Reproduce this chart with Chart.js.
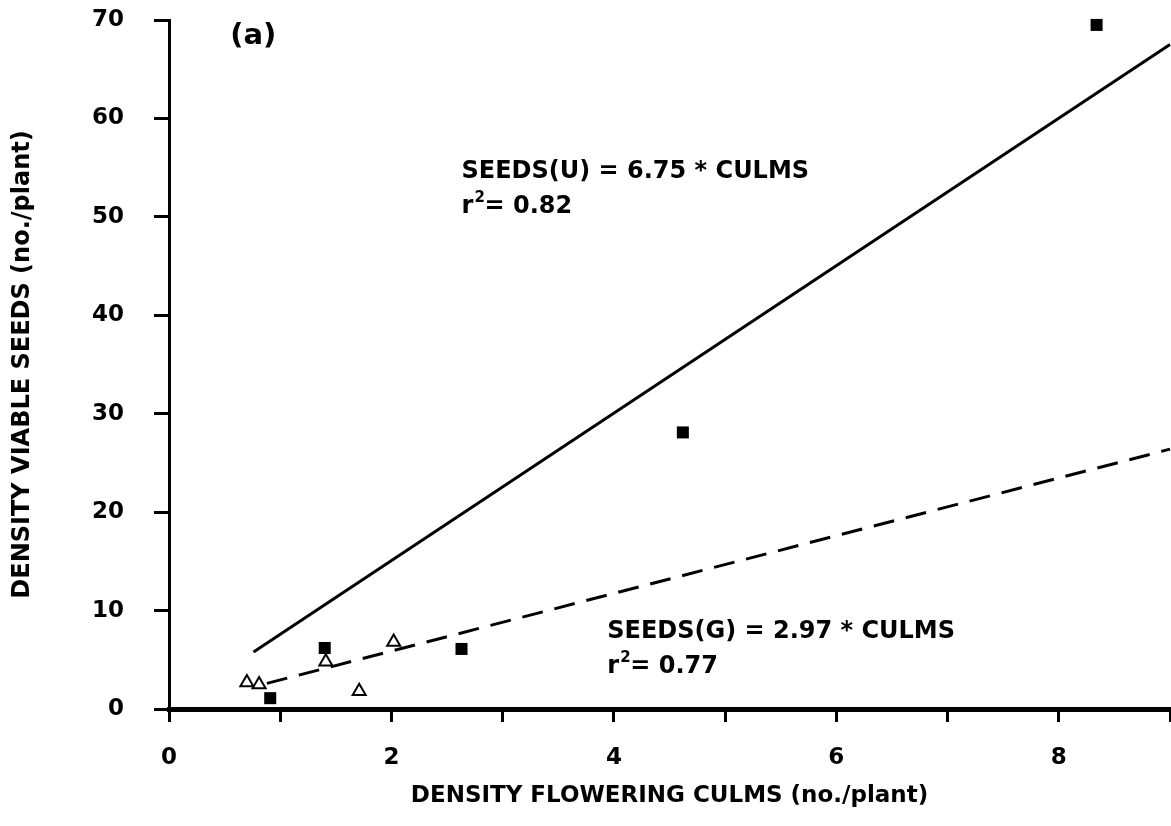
<!DOCTYPE html>
<html>
<head>
<meta charset="utf-8">
<script src="https://cdn.jsdelivr.net/npm/chart.js@4.4.1/dist/chart.umd.min.js"></script>
<style>
  html, body { margin: 0; padding: 0; background: #fff; }
  #wrap { width: 1171px; height: 826px; }
</style>
</head>
<body>
<div id="wrap"><canvas id="chart" width="1171" height="826"></canvas></div>
<script>
// flowering culm density (x) vs viable seed density (y), per plant
const culmsU = [0.91, 1.40, 2.63, 4.62, 8.34];
const seedsU = [1.1, 6.2, 6.1, 28.1, 69.5];
const culmsG = [0.70, 0.81, 1.41, 1.71, 2.02];
const seedsG = [2.7, 2.5, 4.8, 1.8, 6.8];

// fitted lines, end points only
const fitUx = [0.76, 9];
const fitUy = [5.8, 67.5];
const fitGx = [0.88, 9];
const fitGy = [2.6, 26.4];

const xTicks = [0, 1, 2, 3, 4, 5, 6, 7, 8, 9];
const xLabels = ['0', '', '2', '', '4', '', '6', '', '8', ''];
const yTicks = [0, 10, 20, 30, 40, 50, 60, 70];

const eqU = 'SEEDS(U) = 6.75 * CULMS';
const eqG = 'SEEDS(G) = 2.97 * CULMS';
const r2U = '0.82';
const r2G = '0.77';
const panel = '(a)';

const FONT = '"DejaVu Sans", "Liberation Sans", Arial, sans-serif';

function pts(xs, ys) { return xs.map((x, i) => ({ x, y: ys[i] })); }

// equation text + r² with a raised 2
function drawEq(ctx, x, y, eq, r2) {
  ctx.font = `bold 24px ${FONT}`;
  ctx.fillText(eq, x, y);
  const y2 = y + 35;
  ctx.fillText('r', x, y2);
  ctx.font = `bold 15px ${FONT}`;
  ctx.fillText('2', x + 13, y2 - 11);
  ctx.font = `bold 24px ${FONT}`;
  ctx.fillText('= ' + r2, x + 23, y2);
}

const notesPlugin = {
  id: 'notes',
  afterDatasetsDraw(chart) {
    const { ctx, scales: { x, y } } = chart;
    ctx.save();
    ctx.fillStyle = '#000';
    ctx.textBaseline = 'alphabetic';
    ctx.textAlign = 'left';
    ctx.font = `bold 29px ${FONT}`;
    ctx.fillText(panel, x.getPixelForValue(0.55), y.getPixelForValue(67.6));
    drawEq(ctx, x.getPixelForValue(2.63), y.getPixelForValue(53.9), eqU, r2U);
    drawEq(ctx, x.getPixelForValue(3.94), y.getPixelForValue(7.2), eqG, r2G);
    ctx.restore();
  }
};

new Chart(document.getElementById('chart'), {
  type: 'scatter',
  data: {
    datasets: [
      { label: 'fit U', type: 'line', data: pts(fitUx, fitUy), borderColor: '#000', borderWidth: 3,
        pointRadius: 0, fill: false, clip: false },
      { label: 'fit G', type: 'line', data: pts(fitGx, fitGy), borderColor: '#000', borderWidth: 3,
        borderDash: [21, 12], pointRadius: 0, fill: false, clip: false },
      { label: 'U', data: pts(culmsU, seedsU), pointStyle: 'rect', pointRadius: 8.5,
        backgroundColor: '#000', borderColor: '#000', borderWidth: 0, clip: false },
      { label: 'G', data: pts(culmsG, seedsG), pointStyle: 'triangle', pointRadius: 7.5,
        backgroundColor: '#fff', borderColor: '#000', borderWidth: 2, clip: false },
    ]
  },
  options: {
    responsive: false,
    animation: false,
    devicePixelRatio: 1,
    layout: { autoPadding: false, padding: { top: 20, right: 1, left: 0, bottom: 0 } },
    plugins: { legend: { display: false }, tooltip: { enabled: false } },
    scales: {
      x: {
        type: 'linear', min: 0, max: 9,
        afterBuildTicks: (s) => { s.ticks = xTicks.map(v => ({ value: v })); },
        afterFit: (s) => { s.height = 117; s.paddingLeft = 0; s.paddingRight = 0; },
        grid: { drawOnChartArea: false, drawTicks: true, tickLength: 13, tickWidth: 3, tickColor: '#000' },
        border: { display: true, color: '#000', width: 5 },
        ticks: { color: '#000', padding: 22, maxRotation: 0, autoSkip: false,
          font: { family: FONT, size: 23, weight: 'bold' },
          callback: (v, i) => xLabels[i] },
        title: { display: true, text: 'DENSITY FLOWERING CULMS (no./plant)', color: '#000',
          font: { family: FONT, size: 23, weight: 'bold' }, padding: { top: 0, bottom: 16 } }
      },
      y: {
        type: 'linear', min: 0, max: 70,
        afterBuildTicks: (s) => { s.ticks = yTicks.map(v => ({ value: v })); },
        afterFit: (s) => { s.width = 169; s.paddingTop = 0; s.paddingBottom = 0; },
        grid: { drawOnChartArea: false, drawTicks: true, tickLength: 15, tickWidth: 3, tickColor: '#000' },
        border: { display: true, color: '#000', width: 3 },
        ticks: { color: '#000', padding: 30, autoSkip: false,
          font: { family: FONT, size: 23, weight: 'bold' } },
        title: { display: true, text: 'DENSITY VIABLE SEEDS (no./plant)', color: '#000',
          font: { family: FONT, size: 24, weight: 'bold' }, padding: { top: 8, bottom: 0 } }
      }
    }
  },
  plugins: [notesPlugin]
});
</script>
</body>
</html>
